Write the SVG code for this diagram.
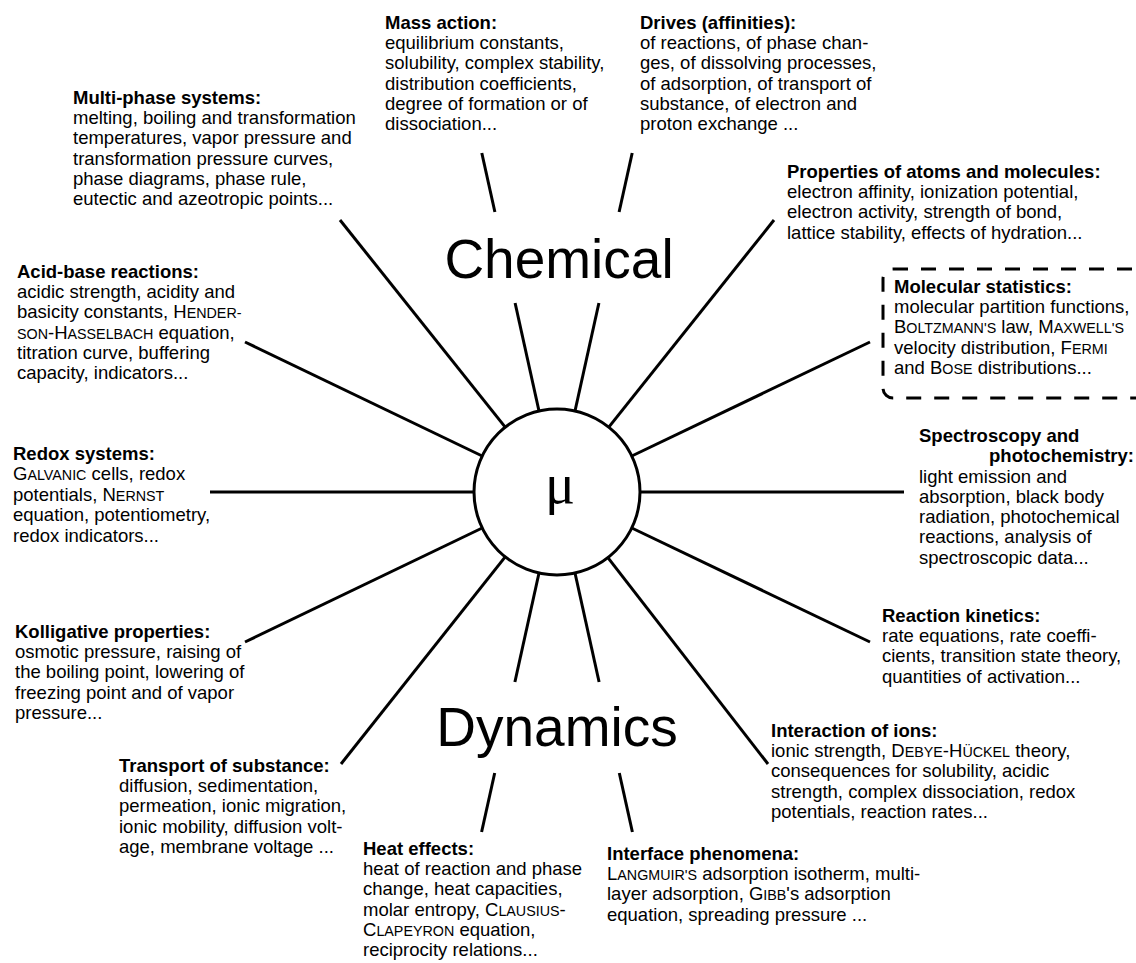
<svg xmlns="http://www.w3.org/2000/svg" width="1136" height="963" viewBox="0 0 1136 963">
<style>
text{font-family:"Liberation Sans",Arial,sans-serif;font-size:18.5px;fill:#000}
.t{font-weight:bold}
.sc{font-size:14.3px}
.big{font-size:55px}
.mu{font-family:"Liberation Serif","Times New Roman",serif;font-size:56px}
.ray{stroke:#000;stroke-width:3;fill:none;stroke-linecap:butt}
</style>
<rect width="1136" height="963" fill="#fff"/>
<g id="connectors">
<line class="ray" x1="481.8" y1="153" x2="494.9" y2="212"/>
<line class="ray" x1="515.1" y1="303" x2="539" y2="411"/>
<line class="ray" x1="632.2" y1="153" x2="619.1" y2="212"/>
<line class="ray" x1="598.9" y1="303" x2="575" y2="411"/>
<line class="ray" x1="340" y1="220" x2="505.2" y2="427.1"/>
<line class="ray" x1="774" y1="220" x2="608.8" y2="427.1"/>
<line class="ray" x1="245" y1="342" x2="482.2" y2="456"/>
<line class="ray" x1="870" y1="342" x2="631.8" y2="456"/>
<line class="ray" x1="210" y1="492" x2="474" y2="492"/>
<line class="ray" x1="640" y1="492" x2="904" y2="492"/>
<line class="ray" x1="245" y1="642" x2="482.2" y2="528"/>
<line class="ray" x1="870" y1="642" x2="631.8" y2="528"/>
<line class="ray" x1="341" y1="764" x2="505.2" y2="556.9"/>
<line class="ray" x1="768" y1="764" x2="607.9" y2="557.6"/>
<line class="ray" x1="539" y1="573" x2="514.9" y2="682"/>
<line class="ray" x1="494.7" y1="773" x2="481.6" y2="832"/>
<line class="ray" x1="575" y1="573" x2="599.1" y2="682"/>
<line class="ray" x1="619.3" y1="773" x2="632.4" y2="832"/>
</g>
<g id="center">
<circle cx="557" cy="492" r="83" fill="#fff" stroke="#000" stroke-width="3"/>
<text class="mu" x="560" y="503" text-anchor="middle">μ</text>
</g>
<g id="title-chemical"><text class="big" x="559" y="278" text-anchor="middle">Chemical</text></g>
<g id="title-dynamics"><text class="big" x="557" y="746" text-anchor="middle">Dynamics</text></g>

<g id="multiphase"><text x="73" y="104"><tspan class="t">Multi-phase systems:</tspan><tspan x="73" dy="20.2">melting, boiling and transformation</tspan><tspan x="73" dy="20.2">temperatures, vapor pressure and</tspan><tspan x="73" dy="20.2">transformation pressure curves,</tspan><tspan x="73" dy="20.2">phase diagrams, phase rule,</tspan><tspan x="73" dy="20.2">eutectic and azeotropic points...</tspan></text></g>

<g id="massaction"><text x="385" y="29"><tspan class="t">Mass action:</tspan><tspan x="385" dy="20.2">equilibrium constants,</tspan><tspan x="385" dy="20.2">solubility, complex stability,</tspan><tspan x="385" dy="20.2">distribution coefficients,</tspan><tspan x="385" dy="20.2">degree of formation or of</tspan><tspan x="385" dy="20.2">dissociation...</tspan></text></g>

<g id="drives"><text x="640" y="29"><tspan class="t">Drives (affinities):</tspan><tspan x="640" dy="20.2">of reactions, of phase chan-</tspan><tspan x="640" dy="20.2">ges, of dissolving processes,</tspan><tspan x="640" dy="20.2">of adsorption, of transport of</tspan><tspan x="640" dy="20.2">substance, of electron and</tspan><tspan x="640" dy="20.2">proton exchange ...</tspan></text></g>

<g id="properties"><text x="787" y="178"><tspan class="t">Properties of atoms and molecules:</tspan><tspan x="787" dy="20.2">electron affinity, ionization potential,</tspan><tspan x="787" dy="20.2">electron activity, strength of bond,</tspan><tspan x="787" dy="20.2">lattice stability, effects of hydration...</tspan></text></g>

<g id="molstat">
<rect x="883" y="269" width="300" height="129" rx="10" fill="none" stroke="#000" stroke-width="3" stroke-dasharray="15 13"/>
<text x="894" y="293"><tspan class="t">Molecular statistics:</tspan><tspan x="894" dy="20.2">molecular partition functions,</tspan><tspan x="894" dy="20.2">B<tspan class="sc">OLTZMANN'S</tspan> law, M<tspan class="sc">AXWELL'S</tspan></tspan><tspan x="894" dy="20.2">velocity distribution, F<tspan class="sc">ERMI</tspan></tspan><tspan x="894" dy="20.2">and B<tspan class="sc">OSE</tspan> distributions...</tspan></text>
</g>

<g id="acidbase"><text x="17" y="278"><tspan class="t">Acid-base reactions:</tspan><tspan x="17" dy="20.2">acidic strength, acidity and</tspan><tspan x="17" dy="20.2">basicity constants, H<tspan class="sc">ENDER-</tspan></tspan><tspan x="17" dy="20.2"><tspan class="sc">SON</tspan>-H<tspan class="sc">ASSELBACH</tspan> equation,</tspan><tspan x="17" dy="20.2">titration curve, buffering</tspan><tspan x="17" dy="20.2">capacity, indicators...</tspan></text></g>

<g id="redox"><text x="13" y="460"><tspan class="t">Redox systems:</tspan><tspan x="13" dy="20.4">G<tspan class="sc">ALVANIC</tspan> cells, redox</tspan><tspan x="13" dy="20.4">potentials, N<tspan class="sc">ERNST</tspan></tspan><tspan x="13" dy="20.4">equation, potentiometry,</tspan><tspan x="13" dy="20.4">redox indicators...</tspan></text></g>

<g id="kolligative"><text x="15" y="638"><tspan class="t">Kolligative properties:</tspan><tspan x="15" dy="20.2">osmotic pressure, raising of</tspan><tspan x="15" dy="20.2">the boiling point, lowering of</tspan><tspan x="15" dy="20.2">freezing point and of vapor</tspan><tspan x="15" dy="20.2">pressure...</tspan></text></g>

<g id="spectroscopy"><text class="t" x="919" y="442">Spectroscopy and</text><text class="t" x="1134" y="462" text-anchor="end">photochemistry:</text><text x="919" y="482.5"><tspan>light emission and</tspan><tspan x="919" dy="20.3">absorption, black body</tspan><tspan x="919" dy="20.3">radiation, photochemical</tspan><tspan x="919" dy="20.3">reactions, analysis of</tspan><tspan x="919" dy="20.3">spectroscopic data...</tspan></text></g>

<g id="kinetics"><text x="882" y="622"><tspan class="t">Reaction kinetics:</tspan><tspan x="882" dy="20.2">rate equations, rate coeffi-</tspan><tspan x="882" dy="20.2">cients, transition state theory,</tspan><tspan x="882" dy="20.2">quantities of activation...</tspan></text></g>

<g id="ions"><text x="771" y="737"><tspan class="t">Interaction of ions:</tspan><tspan x="771" dy="20.2">ionic strength, D<tspan class="sc">EBYE</tspan>-H<tspan class="sc">ÜCKEL</tspan> theory,</tspan><tspan x="771" dy="20.2">consequences for solubility, acidic</tspan><tspan x="771" dy="20.2">strength, complex dissociation, redox</tspan><tspan x="771" dy="20.2">potentials, reaction rates...</tspan></text></g>

<g id="interface"><text x="607" y="860"><tspan class="t">Interface phenomena:</tspan><tspan x="607" dy="20.2">L<tspan class="sc">ANGMUIR'S</tspan> adsorption isotherm, multi-</tspan><tspan x="607" dy="20.2">layer adsorption, G<tspan class="sc">IBB</tspan>'s adsorption</tspan><tspan x="607" dy="20.2">equation, spreading pressure ...</tspan></text></g>

<g id="heat"><text x="363" y="855"><tspan class="t">Heat effects:</tspan><tspan x="363" dy="20.2">heat of reaction and phase</tspan><tspan x="363" dy="20.2">change, heat capacities,</tspan><tspan x="363" dy="20.2">molar entropy, C<tspan class="sc">LAUSIUS</tspan>-</tspan><tspan x="363" dy="20.2">C<tspan class="sc">LAPEYRON</tspan> equation,</tspan><tspan x="363" dy="20.2">reciprocity relations...</tspan></text></g>

<g id="transport"><text x="119" y="772"><tspan class="t">Transport of substance:</tspan><tspan x="119" dy="20.2">diffusion, sedimentation,</tspan><tspan x="119" dy="20.2">permeation, ionic migration,</tspan><tspan x="119" dy="20.2">ionic mobility, diffusion volt-</tspan><tspan x="119" dy="20.2">age, membrane voltage ...</tspan></text></g>
</svg>
